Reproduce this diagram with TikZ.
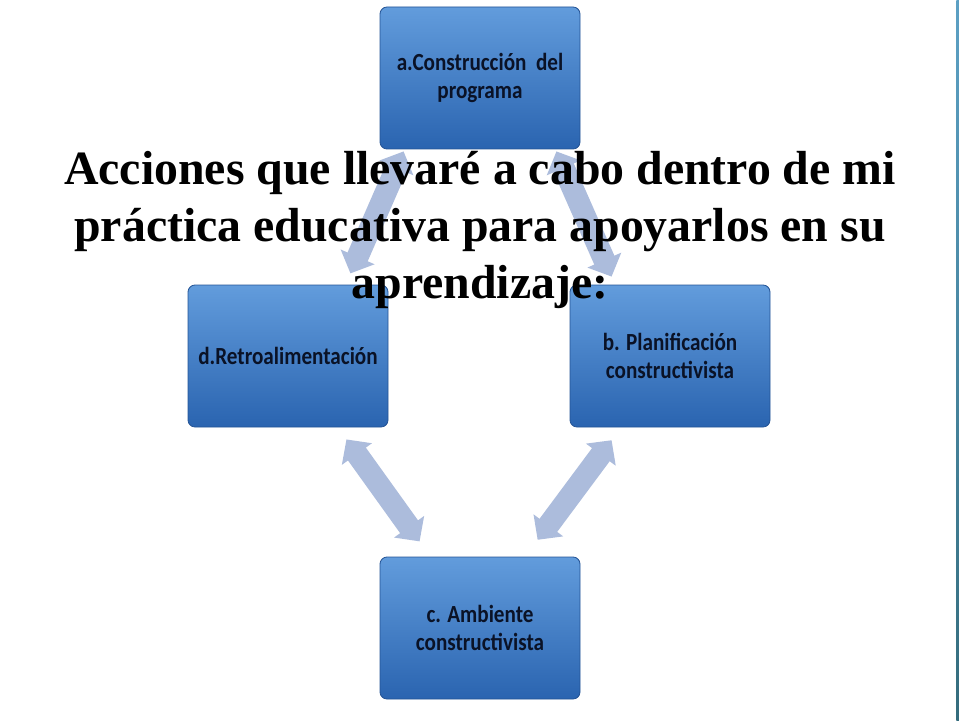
\documentclass[tikz,border=0pt]{standalone}
\usepackage{fontspec}
\usepackage{xcolor}
\usepackage{tikz}
\usetikzlibrary{arrows.meta}
\setmainfont{Liberation Serif}
\newfontfamily\boxfont[FakeStretch=0.86]{Carlito}

\definecolor{boxtop}{RGB}{98,156,220}
\definecolor{boxmid}{RGB}{58,122,196}
\definecolor{boxbot}{RGB}{42,100,176}
\definecolor{boxline}{RGB}{36,84,150}
\definecolor{boxtext}{RGB}{10,18,38}
\definecolor{arrowfill}{RGB}{172,188,220}
\definecolor{edgetop}{RGB}{92,160,196}
\definecolor{edgebot}{RGB}{52,108,124}

\tikzset{
  stagebox/.style={rectangle, rounded corners=5pt, minimum width=5cm, minimum height=3.55cm,
    top color=boxtop, middle color=boxmid, bottom color=boxbot, draw=boxline, line width=0.6pt,
    align=center, text=boxtext, font=\boxfont\bfseries\fontsize{17.5}{20.5}\selectfont},
  linkarrow/.style={line width=0.55cm, draw=arrowfill,
    {Triangle[width=0.9cm,length=0.45cm]}-{Triangle[width=0.9cm,length=0.45cm]}}
}

\begin{document}
\begin{tikzpicture}
        \useasboundingbox (0,0) rectangle (24,18);
        % Right edge line
        \shade[top color=edgetop, bottom color=edgebot] (23.91,0) rectangle (23.97,18);

        % Boxes of the cycle
        \foreach \name/\x/\y/\txt in {a/12/16.05/{a.Construcción\ \ del\\programa},
                                      b/16.75/9.1/{b. Planificación\\constructivista},
                                      c/12/2.3/{c. Ambiente\\constructivista},
                                      d/7.2/9.1/{d.Retroalimentación}} {
            \node[stagebox] (\name) at (\x,\y) {\txt};
        }

        % Arrows between boxes
        \draw[linkarrow] ([xshift=0.6cm,yshift=-0.05cm]a.south west) -- ([xshift=-0.95cm,yshift=0.28cm]d.north east);
        \draw[linkarrow] ([xshift=-0.6cm,yshift=-0.05cm]a.south east) -- ([xshift=1.05cm,yshift=0.2cm]b.north west);
        \draw[linkarrow] ([xshift=-1.05cm,yshift=-0.3cm]d.south east) -- ([xshift=1.0cm,yshift=0.38cm]c.north west);
        \draw[linkarrow] ([xshift=1.05cm,yshift=-0.32cm]b.south west) -- ([xshift=-1.07cm,yshift=0.42cm]c.north east);

        % Title text
        \node[align=center, font=\bfseries\fontsize{34}{40.5}\selectfont] (title) at (12,12.25)
            {Acciones que llevaré a cabo dentro de mi\\práctica educativa para apoyarlos en su\\aprendizaje:};
    \end{tikzpicture}
\end{document}
